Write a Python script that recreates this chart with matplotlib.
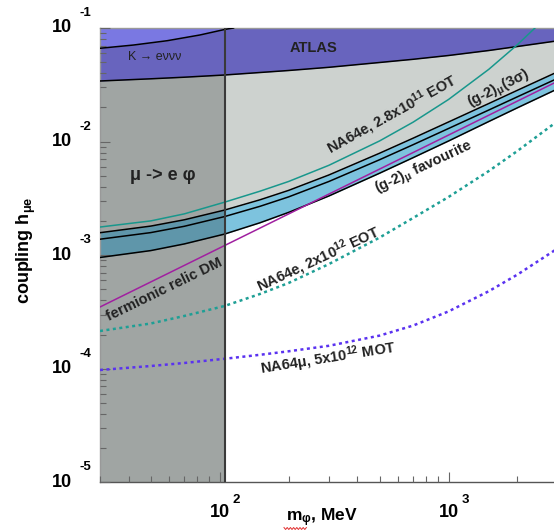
import numpy as np
import matplotlib
matplotlib.use('Agg')
import matplotlib.pyplot as plt
from matplotlib.transforms import offset_copy
from matplotlib.lines import Line2D

plt.rcParams['font.family'] = ['Liberation Sans', 'DejaVu Sans']
plt.rcParams['mathtext.fontset'] = 'custom'
plt.rcParams['mathtext.rm'] = 'Liberation Sans:bold'
plt.rcParams['mathtext.it'] = 'Liberation Sans:bold'
plt.rcParams['mathtext.bf'] = 'Liberation Sans:bold'

# ---------------- data ----------------
mass = [30, 50, 70, 105, 150, 200, 300, 500, 700, 1000, 1500, 2000, 3000]
g2_upper = [1.578e-3, 1.804e-3, 2.049e-3, 2.495e-3, 3.073e-3, 3.718e-3, 5.082e-3,
            7.903e-3, 1.071e-2, 1.488e-2, 2.164e-2, 2.829e-2, 4.116e-2]
g2_mid = [1.383e-3, 1.581e-3, 1.796e-3, 2.187e-3, 2.693e-3, 3.259e-3, 4.454e-3,
          6.927e-3, 9.387e-3, 1.304e-2, 1.897e-2, 2.480e-2, 3.608e-2]
g2_lower = [9.55e-4, 1.098e-3, 1.256e-3, 1.534e-3, 1.929e-3, 2.381e-3, 3.320e-3,
            5.270e-3, 7.217e-3, 1.012e-2, 1.503e-2, 1.984e-2, 2.916e-2]
atlas = [0.03416, 0.03571, 0.03688, 0.03857, 0.04057, 0.04225, 0.04508,
         0.04970, 0.05302, 0.05727, 0.06337, 0.06873, 0.07714]
na64e_2e12 = [2.152e-4, 2.505e-4, 2.917e-4, 3.572e-4, 4.555e-4, 5.69e-4, 8.35e-4,
              1.430e-3, 2.126e-3, 3.253e-3, 5.51e-3, 8.27e-3, 1.518e-2]
na64mu_5e12 = [9.76e-5, 1.058e-4, 1.125e-4, 1.225e-4, 1.328e-4, 1.426e-4, 1.594e-4,
               1.960e-4, 2.401e-4, 3.200e-4, 4.820e-4, 6.749e-4, 1.148e-3]

na64e_mass = [30, 50, 70, 105, 150, 200, 300, 500, 700, 1000, 1500, 2000, 2500]
na64e_28e11 = [1.770e-3, 2.004e-3, 2.310e-3, 2.928e-3, 3.659e-3, 4.454e-3, 6.183e-3,
               1.014e-2, 1.482e-2, 2.348e-2, 4.329e-2, 7.129e-2, 1.093e-1]

relic_mass = [30, 3000]
relic_dm = [3.5e-4, 3.4e-2]

kdecay_mass = [30, 42, 59, 82, 106, 115]
kdecay = [0.0663, 0.0708, 0.0773, 0.0868, 0.0974, 0.1]

mu_e_phi_limit = 105      # MeV
x_ticks = [100, 1000]
x_exps = ['2', '3']
y_ticks = [1e-1, 1e-2, 1e-3, 1e-4, 1e-5]
y_exps = ['-1', '-2', '-3', '-4', '-5']

# ---------------- colours ----------------
C_LPURPLE = '#7a78e2'
C_DPURPLE = '#6864be'
C_LGRAY = '#cdd2cf'
C_DGRAY = '#a0a5a3'
C_LBLUE = '#7dc3de'
C_DBLUE = '#5f96aa'
C_TEAL = '#18978c'
C_TEAL2 = '#1e9f95'
C_MAG = '#a020a0'
C_VIOL = '#5a32f0'
C_TXT = '#222222'

W, H = 554, 531
fig = plt.figure(figsize=(W / 100, H / 100), dpi=100)
AX_L, AX_T, AX_W, AX_H = 100, 28, 457.7, 454.4
ax = fig.add_axes([AX_L / W, (H - AX_T - AX_H) / H, AX_W / W, AX_H / H])
ax.set_xscale('log')
ax.set_yscale('log')
ax.set_xlim(30, 3000)
ax.set_ylim(1e-5, 1e-1)

m = np.array(mass)
iL = mass.index(mu_e_phi_limit)

# regions
ax.axvspan(mass[0], mu_e_phi_limit, color=C_DGRAY, lw=0, zorder=1)
ax.fill_between(m[iL:], g2_upper[iL:], atlas[iL:], color=C_LGRAY, lw=0, zorder=1)
ax.fill_between(m[iL:], g2_lower[iL:], g2_upper[iL:], color=C_LBLUE, lw=0, zorder=1.1)
ax.fill_between(m[:iL + 1], g2_lower[:iL + 1], g2_upper[:iL + 1], color=C_DBLUE, lw=0, zorder=1.1)
ax.fill_between(m, atlas, 1.0, color=C_DPURPLE, lw=0, zorder=1.2)
ax.fill_between(kdecay_mass, kdecay, 1.0, color=C_LPURPLE, lw=0, zorder=1.3)

# lines
ax.plot(mass, g2_upper, color='k', lw=1.1, zorder=3)
ax.plot(mass, g2_mid, color='k', lw=1.1, zorder=3)
ax.plot(mass, g2_lower, color='k', lw=1.1, zorder=3)
ax.plot(mass, atlas, color='k', lw=1.1, zorder=3)
ax.plot(kdecay_mass, kdecay, color='k', lw=1.1, zorder=3)
ax.plot(na64e_mass, na64e_28e11, color=C_TEAL, lw=1.1, zorder=3.2)
ax.plot(relic_mass, relic_dm, color=C_MAG, lw=1.1, zorder=3.1)
ax.plot(mass, na64e_2e12, color=C_TEAL2, lw=1.8, linestyle=(0, (1.2, 1.4)), zorder=3)
ax.plot(mass, na64mu_5e12, color=C_VIOL, lw=1.8, linestyle=(0, (1.2, 1.4)), zorder=3)
ax.axvline(mu_e_phi_limit, color='#3a3a3a', lw=1.5, zorder=3.5)

# frame and ticks
for s in ['top', 'left', 'right']:
    ax.spines[s].set_color('#999999')
    ax.spines[s].set_linewidth(1.0)
ax.spines['bottom'].set_color('#555555')
ax.spines['bottom'].set_linewidth(1.0)
ax.tick_params(which='both', direction='in', top=False, right=False,
               labelbottom=False, labelleft=False, colors='#666666', width=0.8)
ax.tick_params(which='major', length=7.5)
ax.tick_params(which='minor', length=4.5)
ax.xaxis.set_minor_formatter(matplotlib.ticker.NullFormatter())
ax.yaxis.set_minor_formatter(matplotlib.ticker.NullFormatter())
ax.set_axisbelow(False)

# tick labels (ROOT style 10 + raised exponent)
ytr = ax.get_yaxis_transform()
for v, e in zip(y_ticks, y_exps):
    ax.text(-28 / AX_W, v, '10', transform=ytr, ha='right', va='center',
            fontsize=13, fontweight='bold', clip_on=False)
    ax.text(-20 / AX_W, v, e, transform=offset_copy(ytr, fig=fig, y=15, units='dots'),
            ha='left', va='center', fontsize=9.5, fontweight='bold', clip_on=False)
xtr = ax.get_xaxis_transform()
for v, e in zip(x_ticks, x_exps):
    ax.text(v, -30 / AX_H, '10', transform=xtr, ha='center', va='center',
            fontsize=13, fontweight='bold', clip_on=False)
    ax.text(v, -18 / AX_H, e, transform=offset_copy(xtr, fig=fig, x=13, units='dots'),
            ha='left', va='center', fontsize=9.5, fontweight='bold', clip_on=False)

# axis titles
fig.text(26 / W, 1 - 250 / H, 'coupling h$_{μe}$', rotation=90, fontsize=13,
         fontweight='bold', ha='center', va='center')
fig.text(322 / W, 1 - 518 / H, 'm$_{φ}$, MeV', fontsize=12.5, fontweight='bold',
         ha='center', va='center')
# red spell-check squiggle under m_phi (as in the screenshot)
zx = np.arange(284, 307, 1.6)
zy = np.where(np.arange(len(zx)) % 2 == 0, 527.5, 529.5)
fig.add_artist(Line2D(zx / W, 1 - zy / H, color='#e03030', lw=0.7))

# region / curve labels
kw = dict(ha='center', va='center', rotation_mode='anchor', color=C_TXT, zorder=5)
ax.text(51.8, 5.52e-2, 'K → eννν', fontsize=9, **kw)
ax.text(256, 6.63e-2, 'ATLAS', fontsize=10.5, fontweight='bold', **kw)
ax.text(56.4, 5.08e-3, 'μ -> e φ', fontsize=13, fontweight='bold', **kw)
ax.text(565, 1.72e-2, 'NA64e, 2.8x10$^{11}$ EOT', rotation=29, fontsize=10.5,
        fontweight='bold', **kw)
ax.text(1661, 2.90e-2, '(g-2)$_{μ}$(3σ)', rotation=26.5, fontsize=10.5,
        fontweight='bold', **kw)
ax.text(781, 5.86e-3, '(g-2)$_{μ}$ favourite', rotation=25, fontsize=10.5,
        fontweight='bold', **kw)
ax.text(57.2, 4.94e-4, 'fermionic relic DM', rotation=26, fontsize=10.5,
        fontweight='bold', **kw)
ax.text(269, 9.2e-4, 'NA64e, 2x10$^{12}$ EOT', rotation=25, fontsize=10.5,
        fontweight='bold', **kw)
ax.text(298, 1.22e-4, 'NA64μ, 5x10$^{12}$ MOT', rotation=9, fontsize=10.5,
        fontweight='bold', **kw)

fig.savefig('out.png', dpi=100)
